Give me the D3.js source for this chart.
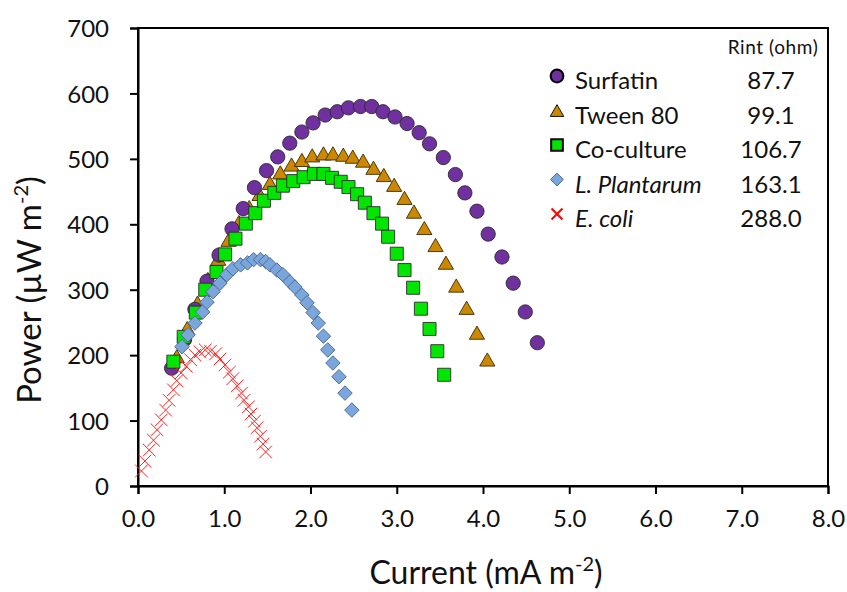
<!DOCTYPE html>
<html>
<head>
<meta charset="utf-8">
<script src="https://cdn.jsdelivr.net/npm/d3@7"></script>
<style>
  body { margin: 0; background: #fff; }
  svg text { font-family: Lato, "Open Sans", sans-serif; fill: #111; }
</style>
</head>
<body>
<div id="chart"></div>
<script>
// current (mA m-2), power (uW m-2)
const surfatin = [[0.39,180],[0.54,224],[0.66,270],[0.80,313],[0.94,353],[1.09,393],[1.22,424],[1.35,456],[1.49,482],[1.62,503],[1.76,524],[1.90,541],[2.03,555],[2.17,567],[2.31,572],[2.44,578],[2.58,580],[2.71,580],[2.84,572],[2.98,564],[3.12,554],[3.26,540],[3.38,523],[3.54,502],[3.68,476],[3.79,448],[3.93,420],[4.06,385],[4.22,350],[4.35,310],[4.49,266],[4.63,219]];
const tween80 = [[0.45,195],[0.57,238],[0.69,277],[0.81,313],[0.93,344],[1.05,373],[1.17,400],[1.29,423],[1.41,443],[1.53,460],[1.65,476],[1.78,488],[1.90,495],[2.02,502],[2.15,505],[2.26,505],[2.38,503],[2.49,500],[2.61,494],[2.73,483],[2.85,472],[2.97,457],[3.09,437],[3.20,416],[3.32,391],[3.45,365],[3.57,338],[3.69,303],[3.81,269],[3.93,231],[4.05,190]];
const coculture = [[0.41,190],[0.53,228],[0.67,265],[0.78,300],[0.91,327],[1.01,354],[1.13,378],[1.25,401],[1.36,417],[1.46,436],[1.58,448],[1.68,459],[1.80,466],[1.92,472],[2.04,477],[2.15,477],[2.25,471],[2.35,465],[2.44,457],[2.54,446],[2.63,433],[2.73,417],[2.83,401],[2.90,381],[3.00,355],[3.09,330],[3.19,303],[3.28,271],[3.38,240],[3.47,206],[3.55,170]];
const plantarum = [[0.51,213],[0.58,231],[0.66,249],[0.75,266],[0.80,281],[0.87,297],[0.95,310],[1.03,323],[1.10,332],[1.19,338],[1.27,341],[1.34,346],[1.42,346],[1.48,343],[1.53,338],[1.61,330],[1.68,323],[1.76,312],[1.82,304],[1.90,292],[1.96,280],[2.03,265],[2.09,249],[2.15,229],[2.20,208],[2.26,188],[2.33,167],[2.40,142],[2.48,116]];
const ecoli = [[0.04,23],[0.08,38],[0.13,55],[0.18,70],[0.22,86],[0.27,101],[0.32,116],[0.36,131],[0.41,147],[0.45,161],[0.50,173],[0.56,183],[0.61,193],[0.66,200],[0.72,205],[0.78,208],[0.84,206],[0.90,202],[0.95,194],[1.01,185],[1.06,174],[1.10,164],[1.15,153],[1.20,142],[1.23,131],[1.28,121],[1.31,110],[1.35,99],[1.38,89],[1.42,76],[1.45,64],[1.48,52]];

const seriesNames = ["Surfatin", "Tween 80", "Co-culture", "L. Plantarum", "E. coli"];
const rint = ["87.7", "99.1", "106.7", "163.1", "288.0"];
const xTicks = [0, 1, 2, 3, 4, 5, 6, 7, 8];
const yTicks = [0, 100, 200, 300, 400, 500, 600, 700];

const width = 847, height = 592;
const margin = { top: 28, right: 19, bottom: 106, left: 138 };

// X marker, drawn as two strokes
const symbolCross = {
    draw(ctx, size) {
        const h = Math.sqrt(size) / 2;
        ctx.moveTo(-h, -h); ctx.lineTo(h, h);
        ctx.moveTo(-h, h); ctx.lineTo(h, -h);
    }
};

const styles = [
    { data: surfatin, type: d3.symbolCircle, size: 160, fill: "#7030a0", stroke: "#2a2a2a", sw: 0.9, rot: 0 },
    { data: tween80, type: d3.symbolTriangle, size: 100, fill: "#cc8800", stroke: "#3a2a00", sw: 0.9, rot: 0 },
    { data: coculture, type: d3.symbolSquare, size: 170, fill: "#00e600", stroke: "#2a2a2a", sw: 0.9, rot: 0 },
    { data: plantarum, type: d3.symbolSquare, size: 105, fill: "#7aa6dc", stroke: "#4a6b94", sw: 0.9, rot: 45 },
    { data: ecoli, type: symbolCross, size: 160, fill: "none", stroke: "#ff2020", sw: 1, rot: 0 },
];
// tween drawn underneath surfatin
const drawOrder = [1, 0, 2, 3, 4];

const svg = d3.select("#chart").append("svg")
    .attr("width", width)
    .attr("height", height);

const x = d3.scaleLinear().domain([0, 8]).range([margin.left, width - margin.right]);
const y = d3.scaleLinear().domain([0, 700]).range([height - margin.bottom, margin.top]);

// frame
svg.append("rect")
    .attr("x", x(0)).attr("y", y(700))
    .attr("width", x(8) - x(0)).attr("height", y(0) - y(700))
    .attr("fill", "none").attr("stroke", "#000").attr("stroke-width", 2);

const xAxis = svg.append("g")
    .attr("transform", `translate(0,${y(0)})`)
    .call(d3.axisBottom(x).tickValues(xTicks).tickFormat(d3.format(".1f")).tickSize(8).tickPadding(16));
const yAxis = svg.append("g")
    .attr("transform", `translate(${x(0)},0)`)
    .call(d3.axisLeft(y).tickValues(yTicks).tickSize(8).tickPadding(21));

[xAxis, yAxis].forEach(g => {
    g.select(".domain").attr("stroke-width", 2);
    g.selectAll(".tick line").attr("stroke-width", 2);
    g.selectAll(".tick text")
        .style("font-family", "Lato, sans-serif")
        .style("font-size", "24px")
        .attr("fill", "#111");
});
yAxis.selectAll(".tick text").attr("dy", "0.36em");

// series
drawOrder.forEach(i => {
    const s = styles[i];
    svg.append("g")
        .selectAll("path")
        .data(s.data)
        .join("path")
        .attr("transform", d => `translate(${x(d[0])},${y(d[1])}) rotate(${s.rot})`)
        .attr("d", d3.symbol().type(s.type).size(s.size))
        .attr("fill", s.fill)
        .attr("stroke", s.stroke)
        .attr("stroke-width", s.sw);
});

// axis titles
const xTitle = svg.append("text")
    .attr("x", 486)
    .attr("y", 584)
    .attr("text-anchor", "middle")
    .style("font-size", "32px");
xTitle.append("tspan").text("Current (mA m");
xTitle.append("tspan").attr("dy", -13).style("font-size", "20px").text("-2");
xTitle.append("tspan").attr("dy", 13).text(")");

const yTitle = svg.append("text")
    .attr("transform", `translate(41,290) rotate(-90)`)
    .attr("text-anchor", "middle")
    .style("font-size", "33px");
yTitle.append("tspan").text("Power (\u00b5W m");
yTitle.append("tspan").attr("dy", -13).style("font-size", "20px").text("-2");
yTitle.append("tspan").attr("dy", 13).text(")");

// legend
const legend = svg.append("g");
legend.append("text")
    .attr("x", 773).attr("y", 54)
    .attr("text-anchor", "middle")
    .style("font-size", "19px")
    .style("letter-spacing", "0.6px")
    .text("Rint (ohm)");

const rowY = d3.scaleLinear().domain([0, 4]).range([81, 219]);
styles.forEach((s, i) => {
    const row = legend.append("g").attr("transform", `translate(0,${rowY(i)})`);
    row.append("path")
        .attr("transform", `translate(557,${i === 1 ? -3 : -5}) rotate(${s.rot})`)
        .attr("d", d3.symbol().type(s.type).size(i === 4 ? 120 : s.size * 0.8))
        .attr("fill", s.fill)
        .attr("stroke", i === 4 ? "#ff0000" : (i === 3 ? s.stroke : "#000"))
        .attr("stroke-width", i === 0 || i === 2 ? 2 : (i === 4 ? 2 : s.sw));
    row.append("text")
        .attr("x", 575).attr("y", 8)
        .style("font-size", "24px")
        .style("font-style", i >= 3 ? "italic" : "normal")
        .text(seriesNames[i]);
    row.append("text")
        .attr("x", 771).attr("y", 8)
        .attr("text-anchor", "middle")
        .style("font-size", "24px")
        .text(rint[i]);
});
</script>
</body>
</html>
